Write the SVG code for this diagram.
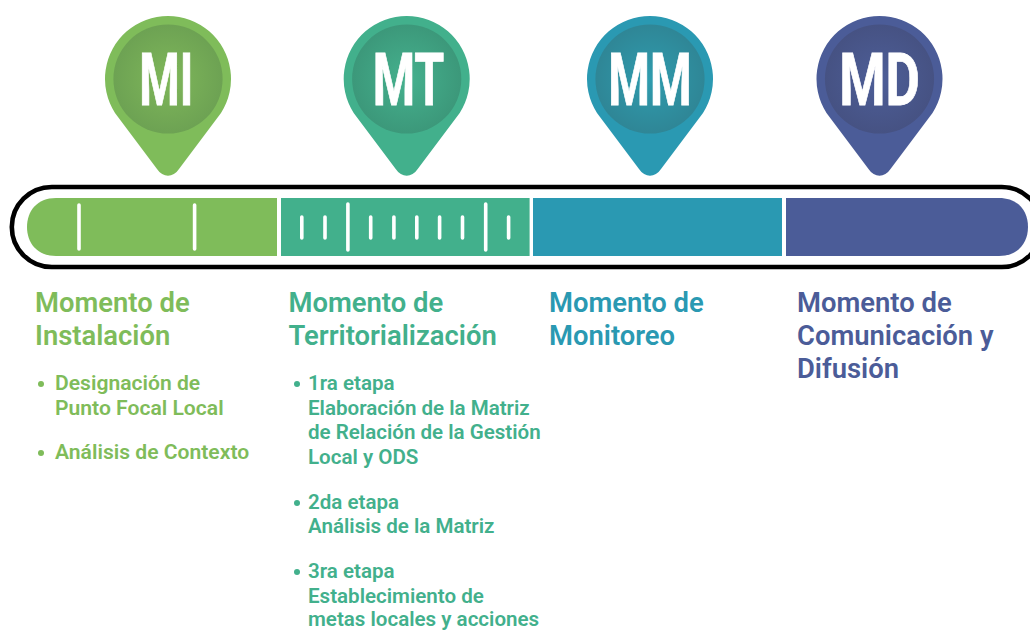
<svg xmlns="http://www.w3.org/2000/svg" width="1030" height="630" viewBox="0 0 1030 630">
<style>
text{font-family:Roboto,"Liberation Sans",sans-serif;font-weight:600}
.h{font-size:27.4px}
.b{font-size:20.55px}
.bi{font-size:21.1px}
.l{font-size:72px;font-weight:700;fill:#fff;stroke:#fff;stroke-width:.8;text-anchor:start}
.t{stroke:#fff;stroke-width:3.6;stroke-linecap:round;fill:none}
.g{fill:#7fbc5a}.e{fill:#42b08c}.c{fill:#2a99b2}.d{fill:#4b5c98}
</style>
<defs>
<path id="pin" d="M-53,34A63,63 0 1 1 53,34L11,90C5,99 -5,99 -11,90Z"/>
<radialGradient id="gi"><stop offset="0" stop-color="#7fb75a"/><stop offset="1" stop-color="#6da253"/></radialGradient>
<radialGradient id="gt"><stop offset="0" stop-color="#45b18e"/><stop offset="1" stop-color="#3c987a"/></radialGradient>
<radialGradient id="gm"><stop offset="0" stop-color="#2f9cae"/><stop offset="1" stop-color="#2f8696"/></radialGradient>
<radialGradient id="gd"><stop offset="0" stop-color="#4d5e98"/><stop offset="1" stop-color="#465283"/></radialGradient>
</defs>
<g id="pin-mi"><use href="#pin" x="168" y="79" class="g"/><circle cx="168" cy="79" r="54.6" fill="url(#gi)"/><text class="l" x="139.3" y="105" textLength="54" lengthAdjust="spacingAndGlyphs">MI</text></g>
<g id="pin-mt"><use href="#pin" x="406.7" y="79" class="e"/><circle cx="406.7" cy="79" r="54.6" fill="url(#gt)"/><text class="l" x="372.7" y="105" textLength="71.6" lengthAdjust="spacingAndGlyphs">MT</text></g>
<g id="pin-mm"><use href="#pin" x="650" y="79" class="c"/><circle cx="650" cy="79" r="54.6" fill="url(#gm)"/><text class="l" x="608.3" y="105" textLength="83.4" lengthAdjust="spacingAndGlyphs">MM</text></g>
<g id="pin-md"><use href="#pin" x="879.5" y="79" class="d"/><circle cx="879.5" cy="79" r="54.6" fill="url(#gd)"/><text class="l" x="839.3" y="105" textLength="80.7" lengthAdjust="spacingAndGlyphs">MD</text></g>
<g id="timeline">
<rect x="11.8" y="187" width="1030" height="80" rx="40" fill="none" stroke="#000" stroke-width="4.6"/>
<path class="g" d="M277,198H56C37,198 27,211 27,227S37,256 56,256H277Z"/>
<rect class="e" x="281" y="198" width="248.6" height="58"/>
<rect class="c" x="533" y="198" width="249" height="58"/>
<path class="d" d="M786,198H999C1018,198 1028,211 1028,227S1018,256 999,256H786Z"/>
<g id="ticks" class="t">
<path d="M79,205V249M194.6,205V249M347.9,204V250M485.7,204V250"/>
<path d="M301.8,217V238M325,217V238M370.7,217V238M393.9,217V238M416.8,217V238M439.6,217V238M462.5,217V238M508.6,217V238"/>
</g>
</g>
<g id="mi-text" class="g">
<text class="h" x="35" y="312">Momento de</text><text class="h" x="35" y="345">Instalación</text>
<circle cx="41" cy="384" r="3"/><text class="bi" x="55" y="390">Designación de</text><text class="bi" x="55" y="415">Punto Focal Local</text>
<circle cx="41" cy="453" r="3"/><text class="bi" x="55" y="459">Análisis de Contexto</text>
</g>
<g id="mt-text" class="e">
<text class="h" x="288.500" y="312">Momento de</text><text class="h" x="288.500" y="345">Territorialización</text>
<circle cx="297" cy="384" r="3"/><text class="b" x="308" y="390">1ra etapa</text><text class="b" x="308" y="415">Elaboración de la Matriz</text><text class="b" x="308" y="439">de Relación de la Gestión</text><text class="b" x="308" y="464">Local y ODS</text>
<circle cx="297" cy="503" r="3"/><text class="b" x="308" y="509">2da etapa</text><text class="b" x="308" y="533">Análisis de la Matriz</text>
<circle cx="297" cy="572" r="3"/><text class="b" x="308" y="578">3ra etapa</text><text class="b" x="308" y="603">Establecimiento de</text><text class="b" x="308" y="625.500">metas locales y acciones</text>
</g>
<g id="mm-text" class="c"><text class="h" x="549" y="312">Momento de</text><text class="h" x="549" y="345">Monitoreo</text></g>
<g id="md-text" class="d"><text class="h" x="797" y="312">Momento de</text><text class="h" x="797" y="345">Comunicación y</text><text class="h" x="797" y="378">Difusión</text></g>
</svg>
